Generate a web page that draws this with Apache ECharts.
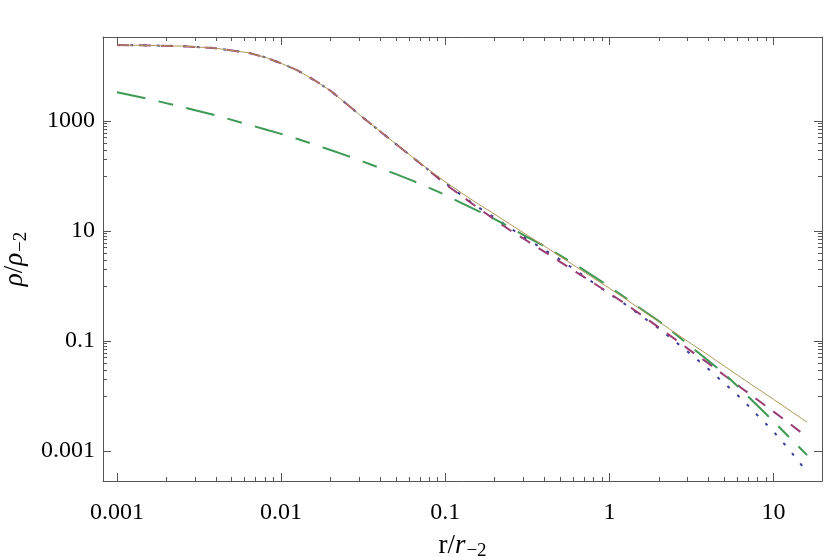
<!DOCTYPE html>
<html><head><meta charset="utf-8">
<script src="https://cdn.jsdelivr.net/npm/echarts@6/dist/echarts.min.js"></script>
<style>html,body{margin:0;padding:0;background:#fff}#c{width:830px;height:557px}</style>
</head><body><div id="c"></div>
<script>
// radius r/r_-2
const r = [0.001, 0.00158, 0.00251, 0.00398, 0.00631, 0.00794, 0.01, 0.0126, 0.0158, 0.02,
  0.0251, 0.0316, 0.0398, 0.0501, 0.0631, 0.0794, 0.1, 0.126, 0.158, 0.2,
  0.251, 0.316, 0.398, 0.501, 0.631, 0.794, 1, 1.26, 1.58, 2,
  2.51, 3.16, 3.98, 5.01, 6.31, 7.94, 10, 12.6, 16.0];
// density rho/rho_-2 for each curve
const rhoBlue = [24000, 23700, 23000, 21100, 17400, 14500, 11200, 8320, 5620, 3550,
  2040, 1150, 661, 380, 221, 128, 75, 44.5, 27.3, 17.5,
  11.1, 7.1, 4.64, 3.03, 1.88, 1.16, 0.724, 0.457, 0.280, 0.169,
  0.0986, 0.0564, 0.0315, 0.0171, 0.0092, 0.00455, 0.00226, 0.00102, 0.000417];
const rhoPurple = [24000, 23700, 23000, 21100, 17400, 14500, 11200, 8320, 5620, 3550,
  2040, 1150, 661, 380, 221, 127, 71.5, 43.2, 26.4, 16.1,
  10.1, 6.58, 4.28, 2.75, 1.77, 1.15, 0.738, 0.468, 0.292, 0.177,
  0.108, 0.0649, 0.0401, 0.0239, 0.0143, 0.00865, 0.00521, 0.00311, 0.00179];
const rhoOlive = [24000, 23700, 23000, 21100, 17400, 14500, 11200, 8320, 5620, 3550,
  2040, 1150, 661, 380, 221, 130, 78.5, 49.0, 31.3, 20.2,
  13.0, 8.41, 5.43, 3.47, 2.21, 1.41, 0.912, 0.575, 0.363, 0.226,
  0.141, 0.0891, 0.0562, 0.0351, 0.0219, 0.0138, 0.00871, 0.00543, 0.00335];
const rhoGreen = [3330, 2490, 1790, 1270, 865, 711, 583, 471, 377, 297,
  235, 183, 141, 108, 82.4, 61.5, 45.2, 32.1, 23.3, 16.5,
  11.4, 7.78, 5.38, 3.61, 2.38, 1.53, 0.973, 0.605, 0.372, 0.230,
  0.136, 0.0771, 0.0446, 0.0255, 0.0133, 0.00681, 0.00348, 0.00172, 0.000849];

const xTickValues = [0.001, 0.01, 0.1, 1, 10];
const xTickLabels = ['0.001', '0.01', '0.1', '1', '10'];
const yTickValues = [1000, 10, 0.1, 0.001];
const yTickLabels = ['1000', '10', '0.1', '0.001'];
const xRange = [0.000822, 19.74];
const yRange = [0.000285, 33700];

const lg = Math.log10;
const FONT = "'Liberation Serif', 'Times New Roman', serif";
const FRAME = '#555';

// minor tick positions
const xMinor = [];
xTickValues.forEach(d => { for (let k = 2; k <= 9; k++) { const v = k * d; if (v < xRange[1]) xMinor.push(v); } });
const yMinor = [];
[1000, 10, 0.1].forEach(M => { for (let k = 1; k <= 9; k++) yMinor.push(k * M / 10); });

function labelFor(vals, labels) {
  return function (v) {
    const i = vals.findIndex(t => Math.abs(lg(t) - v) < 1e-6);
    return i >= 0 ? labels[i] : '';
  };
}

function mkAxis(range, pos, tickVals, len, showLine, labelVals, labels, extra) {
  const a = {
    type: 'value', position: pos,
    min: lg(range[0]), max: lg(range[1]),
    splitLine: { show: false },
    axisLine: { show: showLine, onZero: false, lineStyle: { color: FRAME, width: 1 } },
    axisTick: { show: true, inside: true, length: len, customValues: tickVals.map(lg),
      lineStyle: { color: FRAME, width: 1 } },
    axisLabel: labels ? {
      show: true, customValues: labelVals.map(lg), formatter: labelFor(labelVals, labels),
      color: '#000', fontFamily: FONT, fontSize: 24, margin: 20
    } : { show: false }
  };
  return Object.assign(a, extra || {});
}

const richBase = { fontFamily: FONT, fontSize: 27, color: '#000' };
const rich = {
  a: Object.assign({}, richBase),
  b: Object.assign({ fontStyle: 'italic' }, richBase),
  c: { fontFamily: FONT, fontSize: 19, color: '#000', padding: [12, 0, 0, 1] }
};

const xAxes = [
  mkAxis(xRange, 'bottom', xTickValues, 8, true, xTickValues, xTickLabels, {
    name: '{a|r/}{b|r}{c|\u22122}', nameLocation: 'middle', nameGap: 49,
    nameTextStyle: { rich: rich }
  }),
  mkAxis(xRange, 'bottom', xMinor, 4, false),
  mkAxis(xRange, 'top', xTickValues, 8, true),
  mkAxis(xRange, 'top', xMinor, 4, false)
];
const yAxes = [
  mkAxis(yRange, 'left', yTickValues, 8, true, yTickValues, yTickLabels, {
    name: '{b|\u03c1}{a|/}{b|\u03c1}{c|\u22122}', nameLocation: 'middle', nameGap: 62,
    nameTextStyle: { rich: rich }
  }),
  mkAxis(yRange, 'left', yMinor, 4, false),
  mkAxis(yRange, 'right', yTickValues, 8, true),
  mkAxis(yRange, 'right', yMinor, 4, false)
];
yAxes.forEach(a => { a.axisLabel.margin = 8; });

function mkSeries(rho, color, width, type, z) {
  return {
    type: 'line', xAxisIndex: 0, yAxisIndex: 0, z: z,
    data: r.map((x, i) => [lg(x), lg(rho[i])]),
    showSymbol: false, smooth: false,
    lineStyle: { color: color, width: width, type: type, cap: 'butt', join: 'round' },
    silent: true
  };
}

const chart = echarts.init(document.getElementById('c'), null, { renderer: 'canvas' });
chart.setOption({
  animation: false,
  backgroundColor: '#fff',
  grid: { left: 103, right: 8, top: 37, bottom: 76, containLabel: false, outerBoundsMode: 'none' },
  xAxis: xAxes,
  yAxis: yAxes,
  series: [
    mkSeries(rhoBlue, '#3d3d99', 2, [3, 10.3], 3),
    mkSeries(rhoPurple, '#993d74', 2, [12, 10], 4),
    mkSeries(rhoGreen, '#3d9953', 2, [29, 13.5, 15, 13.5], 5),
    mkSeries(rhoOlive, '#b09858', 1, 'solid', 6)
  ]
});
</script>
</body></html>
